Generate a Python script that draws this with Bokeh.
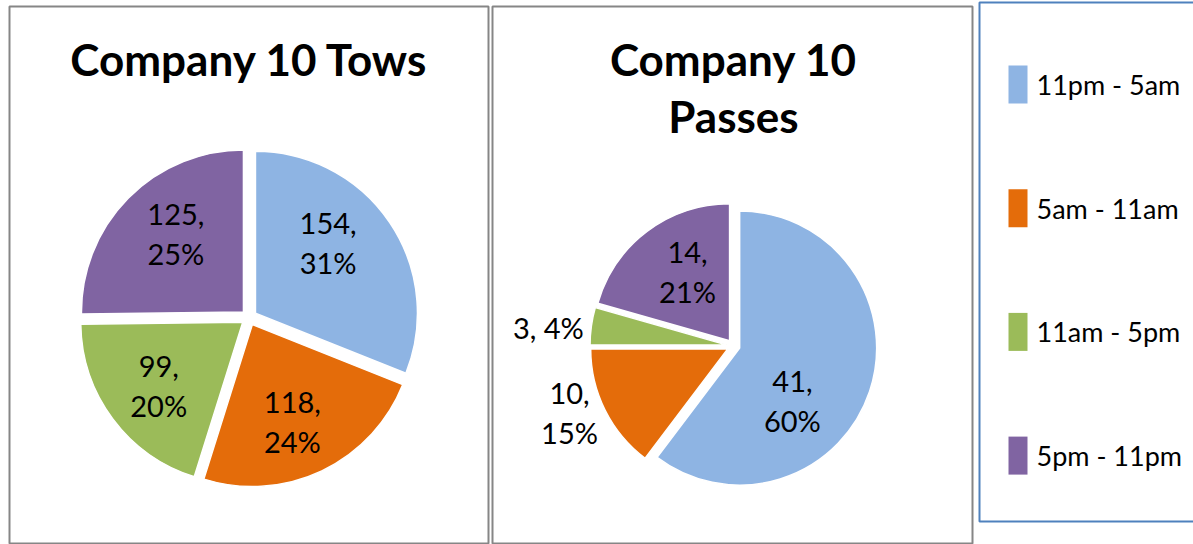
import numpy as np
from bokeh.plotting import figure
from bokeh.models import Range1d
from bokeh.core.properties import value
from bokeh.embed import file_html
from bokeh.resources import INLINE

# ---------------- data ----------------
categories = ["11pm - 5am", "5am - 11am", "11am - 5pm", "5pm - 11pm"]
colors = ["#8EB4E3", "#E46C0A", "#9BBB59", "#8064A2"]

tows_title = ["Company 10 Tows"]
tows_values = [154, 118, 99, 125]

passes_title = ["Company 10", "Passes"]
passes_values = [41, 10, 3, 14]

# ---------------- figure (1 data unit = 1 page pixel, y = -page_y) ----------------
W, H = 1193, 544
p = figure(width=W, height=H, x_range=Range1d(0, W), y_range=Range1d(-H, 0),
           output_backend="svg", toolbar_location=None, min_border=0,
           x_axis_location=None, y_axis_location=None)
p.grid.visible = False
p.outline_line_color = None
p.background_fill_color = "white"
p.border_fill_color = "white"

LABEL_FONT = value("Lato")

# panel frames
p.quad(left=[9, 492], right=[488, 972], top=[-6, -6], bottom=[-543, -543],
       fill_color=None, line_color="#868686", line_width=2)
p.quad(left=[979], right=[1260], top=[-2], bottom=[-521],
       fill_color=None, line_color="#4F81BD", line_width=2)


def draw_title(lines, cx, top_y, step):
    ys = [-(top_y + i * step) for i in range(len(lines))]
    p.text(x=[cx] * len(lines), y=ys, text=lines, text_font=LABEL_FONT,
           text_font_style="bold", text_font_size="44px", text_color="black",
           text_align="center", text_baseline="middle")


def draw_pie(vals, cx, cy, R, d, lab_dist, lab_ang, wrap):
    vals = np.array(vals, dtype=float)
    frac = vals / vals.sum()
    cum = np.concatenate([[0.0], np.cumsum(frac)]) * 2 * np.pi
    t1, t2 = cum[:-1], cum[1:]
    mid = (t1 + t2) / 2
    ox = cx + d * np.sin(mid)
    oy = -cy + d * np.cos(mid)
    p.wedge(x=ox, y=oy, radius=R, radius_units="screen",
            start_angle=np.pi / 2 - t2, end_angle=np.pi / 2 - t1,
            fill_color=colors, line_color="white", line_width=1.5)
    xs, ys, txt = [], [], []
    line_h = 39
    for i, v in enumerate(vals):
        pct = int(round(frac[i] * 100))
        a = np.radians(lab_ang[i])
        lx = ox[i] + lab_dist[i] * np.sin(a)
        ly = oy[i] + lab_dist[i] * np.cos(a)
        lines = [f"{int(v)},", f"{pct}%"] if wrap[i] else [f"{int(v)}, {pct}%"]
        n = len(lines)
        for j, s in enumerate(lines):
            xs.append(lx)
            ys.append(ly - (j - (n - 1) / 2) * line_h)
            txt.append(s)
    p.text(x=xs, y=ys, text=txt, text_font=LABEL_FONT, text_font_size="29px",
           text_color="black", text_align="center", text_baseline="middle")


# chart 1: tows
draw_title(tows_title, 249, 58, 57)
draw_pie(tows_values, 248.5, 317, 162, 7.8,
         lab_dist=[101, 105, 105.6, 103], lab_ang=[46, 157.6, 232.7, 319],
         wrap=[True, True, True, True])

# chart 2: passes
draw_title(passes_title, 733, 58, 57)
draw_pie(passes_values, 733, 345.5, 137, 6.5,
         lab_dist=[75, 170.6, 179.5, 81], lab_ang=[135.3, 248, 275.6, 328.7],
         wrap=[True, True, False, True])

# legend
step = 123.7
centers = [84 + i * step for i in range(len(categories))]
p.quad(left=[1008] * 4, right=[1027] * 4,
       top=[-(c - 19) for c in centers], bottom=[-(c + 19) for c in centers],
       fill_color=colors, line_color=None)
p.text(x=[1036] * 4, y=[-c for c in centers], text=categories,
       text_font=LABEL_FONT, text_font_size="27px",
       text_color="black", text_align="left", text_baseline="middle")

open("out.html", "w").write(file_html(p, INLINE))
